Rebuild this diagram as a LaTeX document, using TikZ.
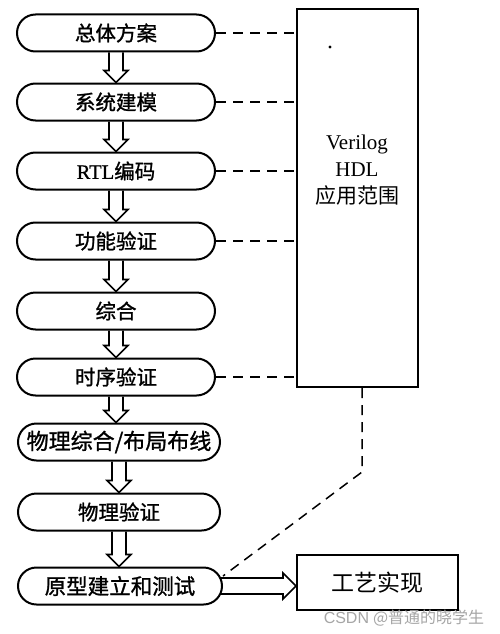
\documentclass[tikz,border=0pt]{standalone}
\usepackage{fontspec}
\setmainfont{Liberation Serif}
\newfontfamily\cjk{Noto Sans CJK SC}
\newfontfamily\cjkb{Noto Sans CJK SC}[FakeBold=1.2]
\newfontfamily\rmb{Liberation Serif}[FakeBold=0.8]
\newfontfamily\wmsans{Liberation Sans}
\usetikzlibrary{shapes.misc,calc}
\tikzset{
  stepbox/.style={rounded rectangle, draw, line width=2pt, minimum width=198pt, minimum height=37pt, inner sep=0pt, font=\cjkb\fontsize{20.5}{20.5}\selectfont},
  plainbox/.style={draw, line width=2pt, inner sep=0pt},
  varrow/.style={line width=1.6pt, to path={let \p1=(\tikztostart), \p2=(\tikztotarget) in (\x1-7pt,\y1) -- (\x1-7pt,\y2+12pt) -- (\x1-12pt,\y2+12pt) -- (\x1,\y2) -- (\x1+12pt,\y2+12pt) -- (\x1+7pt,\y2+12pt) -- (\x1+7pt,\y1)}},
  harrow/.style={line width=1.6pt, to path={let \p1=(\tikztostart), \p2=(\tikztotarget) in (\x1-2pt,\y1+8pt) -- (\x2-13pt,\y1+8pt) -- (\x2-13pt,\y1+13pt) -- (\x2,\y1) -- (\x2-13pt,\y1-13pt) -- (\x2-13pt,\y1-8pt) -- (\x1-2pt,\y1-8pt)}},
  dashline/.style={line width=1.5pt, dash pattern=on 10pt off 7pt}
}
\begin{document}
\begin{tikzpicture}[x=1pt,y=-1pt]
\useasboundingbox (0,0) rectangle (499,634);
\fill[white] (0,0) rectangle (499,634);
\node[stepbox] (n1) at (116,33) {总体方案};
\node[stepbox] (n2) at (116,102) {系统建模};
\node[stepbox] (n3) at (116,171) {{\rmb RTL}编码};
\node[stepbox] (n4) at (116,241) {功能验证};
\node[stepbox] (n5) at (116,311) {综合};
\node[stepbox] (n6) at (116,377) {时序验证};
\node[stepbox, minimum width=202pt, font=\cjkb\fontsize{22}{22}\selectfont] (n7) at (119,442) {物理综合/布局布线};
\node[stepbox, minimum width=202pt] (n8) at (119,512) {物理验证};
\node[stepbox, minimum width=204pt, font=\cjkb\fontsize{21.5}{21.5}\selectfont] (n9) at (120,586) {原型建立和测试};
\draw[varrow] (n1.south) to (n2.north);
\draw[varrow] (n2.south) to (n3.north);
\draw[varrow] (n3.south) to (n4.north);
\draw[varrow] (n4.south) to (n5.north);
\draw[varrow] (n5.south) to (n6.north);
\draw[varrow] (n6.south) to (n7.north);
\draw[varrow] (n7.south) to (n8.north);
\draw[varrow] (n8.south) to (n9.north);
\node[plainbox, minimum width=121pt, minimum height=378pt] (vrect) at (357.5,198) {};
\node[font=\fontsize{21}{27}\selectfont, align=center] (vtext) at (357,170) {Verilog\\HDL\\{\cjk 应用范围}};
\fill (330,47) circle (1.7pt);
\foreach \n in {n1,n2,n3,n4,n6} \draw[dashline] (\n.east) -- (\n.east -| vrect.west);
\node[plainbox, minimum width=161pt, minimum height=55pt, font=\cjk\fontsize{23}{23}\selectfont] (craft) at (377.5,582.5) {工艺实现};
\draw[harrow] (n9.east) to (craft.west);
\coordinate (bend) at (362,472);
\draw[dashline] (bend |- vrect.south) -- (bend) -- ([yshift=10pt]n9.east);
\node[text=black!35, font=\fontsize{16}{16}\selectfont] (wm) at (404,618) {{\wmsans CSDN} {\cjk @普通的晓学生}};
\end{tikzpicture}
\end{document}
